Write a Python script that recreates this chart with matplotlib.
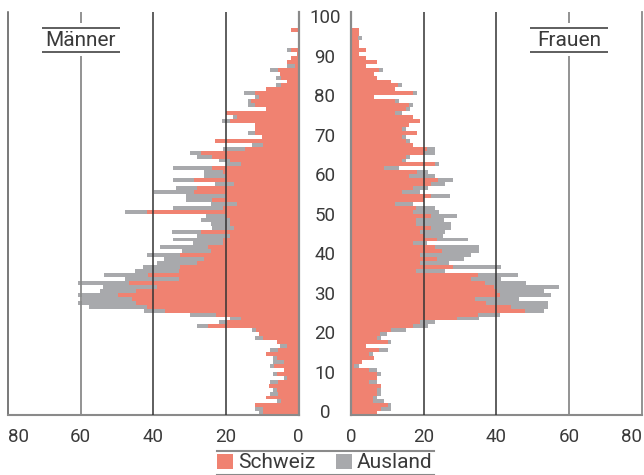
import numpy as np
import matplotlib
matplotlib.use("Agg")
import matplotlib.pyplot as plt
from matplotlib.patches import Patch, Rectangle
from matplotlib.lines import Line2D

plt.rcParams['font.family'] = ['Roboto', 'DejaVu Sans']

ages = list(range(0, 98))

# Männer: Schweiz and total (Schweiz + Ausland)
men_ch = [9.9, 9.9, 12.1, 4.9, 9.0, 5.8, 6.0, 8.2, 5.8, 3.1,
          6.0, 4.1, 6.9, 4.1, 6.0, 9.0, 5.8, 3.1, 6.0, 9.9,
          11.0, 11.8, 24.9, 19.8, 15.9, 22.8, 36.7, 41.7, 44.7, 45.8,
          49.8, 44.7, 39.0, 46.8, 33.0, 41.6, 33.0, 32.8, 27.9, 26.0,
          32.8, 24.0, 25.0, 20.9, 20.9, 18.9, 26.8, 17.8, 19.0, 18.9,
          20.0, 41.9, 20.7, 16.9, 23.8, 20.0, 28.8, 27.9, 17.8, 28.8,
          20.0, 20.9, 23.8, 16.0, 18.9, 23.9, 26.8, 14.8, 9.8, 23.0,
          10.0, 11.9, 12.1, 12.1, 18.9, 17.1, 20.0, 9.1, 11.9, 13.0,
          11.0, 12.1, 9.1, 4.9, 3.1, 4.9, 5.2, 5.8, 0.9, 3.1,
          2.2, 0.4, 2.0, 0.3, 0.3, 0.3, 0.3, 2.2]
men_tot = [11.0, 12.0, 12.1, 6.0, 9.0, 8.0, 7.0, 8.2, 8.0, 4.1,
           7.0, 4.1, 8.0, 7.0, 7.0, 9.0, 8.0, 5.2, 6.0, 12.1,
           11.0, 12.9, 27.9, 21.9, 18.9, 29.9, 42.7, 57.8, 60.7, 59.7,
           60.7, 54.7, 53.9, 60.7, 47.9, 53.7, 45.0, 42.9, 38.9, 37.0,
           41.9, 32.0, 38.1, 29.0, 34.7, 28.0, 35.0, 23.8, 24.0, 26.8,
           25.5, 47.9, 34.7, 24.1, 31.0, 31.0, 39.7, 33.9, 23.0, 34.7,
           26.0, 26.0, 34.7, 20.0, 22.0, 27.9, 29.9, 20.9, 12.8, 23.0,
           10.0, 13.9, 12.1, 12.1, 21.1, 18.2, 20.0, 9.1, 13.9, 13.9,
           12.1, 15.0, 9.1, 6.1, 3.1, 6.1, 5.2, 7.9, 3.1, 3.1,
           2.2, 0.4, 3.1, 0.3, 0.3, 0.3, 0.3, 2.2]

# Frauen: Schweiz and total (Schweiz + Ausland)
women_ch = [7.1, 8.1, 10.1, 6.0, 6.0, 7.1, 7.1, 8.1, 4.9, 7.1,
            7.1, 4.9, 0.9, 2.9, 6.2, 4.9, 7.8, 4.0, 10.1, 7.1,
            7.9, 11.1, 17.1, 19.0, 29.1, 35.0, 48.0, 44.1, 37.1, 34.2,
            41.1, 40.2, 39.3, 37.0, 33.0, 35.0, 18.0, 28.2, 19.0, 23.8,
            19.0, 25.0, 23.1, 17.0, 23.8, 20.0, 19.0, 22.0, 18.0, 18.0,
            22.0, 17.1, 18.0, 12.0, 20.0, 22.0, 14.0, 17.0, 22.1, 23.9,
            16.0, 18.1, 9.0, 23.0, 14.0, 15.0, 20.0, 21.0, 17.1, 15.0,
            14.0, 18.1, 14.0, 16.0, 19.1, 17.1, 12.2, 15.0, 16.0, 12.2,
            6.2, 17.1, 12.2, 12.9, 11.1, 7.1, 6.2, 7.8, 4.0, 7.1,
            4.0, 2.1, 4.0, 2.1, 2.1, 1.8, 2.1, 2.1]
women_tot = [7.1, 11.1, 11.1, 9.0, 7.1, 8.1, 8.1, 8.1, 7.1, 7.1,
             8.1, 7.1, 2.1, 2.9, 6.2, 6.0, 10.1, 4.0, 11.1, 8.1,
             10.0, 15.1, 21.2, 23.1, 35.3, 41.1, 53.2, 54.2, 54.3, 46.3,
             55.0, 53.2, 57.3, 48.2, 41.3, 46.0, 26.0, 41.3, 27.0, 31.1,
             33.0, 35.3, 35.3, 21.0, 32.1, 25.3, 26.0, 27.6, 27.5, 25.5,
             29.1, 24.2, 23.0, 17.1, 20.0, 27.2, 19.1, 21.2, 26.0, 28.1,
             23.0, 21.2, 13.1, 24.1, 15.0, 16.2, 23.0, 23.0, 17.1, 16.2,
             15.0, 18.1, 15.0, 16.0, 19.1, 17.1, 14.1, 16.2, 17.1, 13.2,
             6.2, 18.1, 12.2, 14.0, 11.1, 7.1, 6.2, 8.9, 4.0, 7.1,
             4.0, 2.1, 4.0, 2.1, 2.1, 3.0, 2.1, 2.1]

x_ticks = [0, 20, 40, 60, 80]
age_ticks = [0, 10, 20, 30, 40, 50, 60, 70, 80, 90, 100]
series_labels = ["Schweiz", "Ausland"]
panel_titles = ["Männer", "Frauen"]

RED = "#F08271"
GRAY = "#A8A9AC"
TXT = "#3a3a3a"
DARK = "#333333"
MID = "#8a8a8a"

men_ch = np.array(men_ch)
men_aus = np.array(men_tot) - men_ch
women_ch = np.array(women_ch)
women_aus = np.array(women_tot) - women_ch

W, H = 644, 475
fig = plt.figure(figsize=(W / 100, H / 100), dpi=100)

y_bot_px, y_top_px = 415.3, 12.0
ax_b = 1 - y_bot_px / H
ax_h = (y_bot_px - y_top_px) / H
axL = fig.add_axes([8.2 / W, ax_b, (298.6 - 8.2) / W, ax_h])
axR = fig.add_axes([351.1 / W, ax_b, (641.5 - 351.1) / W, ax_h])

ylim = (-0.5, 101.6)
for ax, ch, aus in ((axL, men_ch, men_aus), (axR, women_ch, women_aus)):
    ax.barh(ages, ch, height=1.0, color=RED, linewidth=0, zorder=2)
    ax.barh(ages, aus, left=ch, height=1.0, color=GRAY, linewidth=0, zorder=2)
    ax.set_ylim(*ylim)
    ax.set_yticks([])
    ax.set_xticks(x_ticks)
    ax.tick_params(axis='x', length=0, pad=9, labelsize=13.5, labelcolor=TXT)
    for v in (20, 40):
        ax.axvline(v, color=DARK, lw=1.1, zorder=3)
    ax.axvline(60, color=MID, lw=1.3, zorder=3)
    ax.spines['top'].set_visible(False)
    ax.spines['bottom'].set_color(MID)
    ax.spines['bottom'].set_linewidth(1.5)

axL.set_xlim(80, 0)
axR.set_xlim(0, 80)
axL.spines['left'].set_color('#555555')
axL.spines['left'].set_linewidth(1.1)
axL.spines['right'].set_color(MID)
axL.spines['right'].set_linewidth(1.6)
axR.spines['left'].set_color(MID)
axR.spines['left'].set_linewidth(1.6)
axR.spines['right'].set_color(MID)
axR.spines['right'].set_linewidth(1.3)

# outermost tick labels stay inside the figure
fig.canvas.draw()
axL.get_xticklabels()[-1].set_horizontalalignment('left')
axR.get_xticklabels()[-1].set_horizontalalignment('right')

# age labels in the middle gap
for a in age_ticks:
    axR.text(-7.2, a, str(a), ha='center', va='center', fontsize=13.5,
             color=TXT, clip_on=False)

# panel titles with rules above and below
for ax, title in ((axL, panel_titles[0]), (axR, panel_titles[1])):
    cx = 60
    ax.add_patch(Rectangle((cx - 10.8, 90.4), 21.6, 8.4, facecolor='white',
                           edgecolor='none', zorder=4))
    ax.plot([cx - 10.8, cx + 10.8], [97.6, 97.6], color=DARK, lw=1.1,
            zorder=5, solid_capstyle='butt')
    ax.plot([cx - 10.8, cx + 10.8], [91.5, 91.5], color=DARK, lw=1.1,
            zorder=5, solid_capstyle='butt')
    ax.text(cx, 94.5, title, ha='center', va='center', fontsize=15,
            color=TXT, zorder=6)

# legend
handles = [Patch(facecolor=RED, edgecolor='none'),
           Patch(facecolor=GRAY, edgecolor='none')]
leg = fig.legend(handles, series_labels, loc='center',
                 bbox_to_anchor=(325 / W, 1 - 463 / H), ncol=2, frameon=False,
                 fontsize=15, handlelength=0.75, handleheight=0.75,
                 handletextpad=0.25, columnspacing=1.0, borderpad=0.2)
for t in leg.get_texts():
    t.set_color(TXT)
for yy in (451, 474.5):
    fig.add_artist(Line2D([217 / W, 434 / W], [1 - yy / H, 1 - yy / H],
                          color=MID, lw=1.5, transform=fig.transFigure))

fig.savefig("out.png", dpi=100, facecolor='white')
